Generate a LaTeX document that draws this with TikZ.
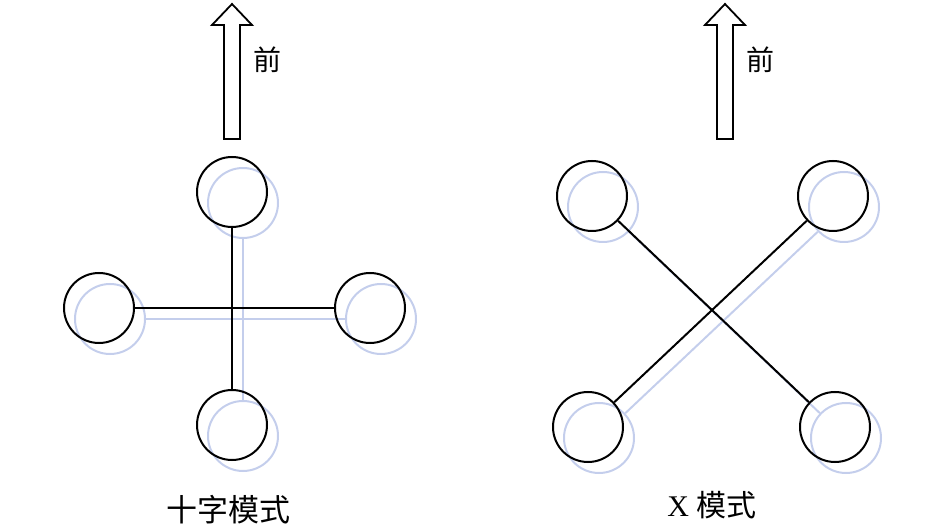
\documentclass[tikz,border=0pt]{standalone}
\usepackage{fontspec}
\setmainfont{Liberation Serif}
\newfontfamily\cjk{Noto Sans CJK SC}
\definecolor{shadeblue}{RGB}{196,206,236}
\tikzset{
  rotor/.style={draw,circle,minimum size=70,inner sep=0,line width=2},
  rotorshade/.style={rotor,draw=shadeblue},
  arm/.style={line width=2},
  armshade/.style={line width=2,draw=shadeblue},
  fwd/.style={line width=1.8},
  caption/.style={font=\fontsize{30}{32}\selectfont}
}
\begin{document}
\begin{tikzpicture}[x=1pt,y=-1pt,line join=miter,line cap=butt]
\useasboundingbox (0,0) rectangle (946,529);
\def\dd{11}
% forward arrows
\foreach \ax/\nm in {232/pf,725/xf}{
  \draw[fwd] (\ax-8,139)--(\ax-8,25)--(\ax-20,25)--(\ax,4)--(\ax+20,25)--(\ax+8,25)--(\ax+8,139)--cycle;
  \node[caption,font=\fontsize{28}{30}\selectfont\cjk] (\nm) at (\ax+35,60) {前};
}
% plus layout
\foreach \n/\x/\y in {t/232/192,l/99/308,r/370/308,b/232/425}{
  \node[rotorshade] (ps\n) at (\x+\dd,\y+\dd) {};
}
\draw[armshade] (pst)--(psb) (psl)--(psr);
\foreach \n/\x/\y in {t/232/192,l/99/308,r/370/308,b/232/425}{
  \node[rotor] (p\n) at (\x,\y) {};
}
\draw[arm] (pt)--(pb) (pl)--(pr);
\node[caption,font=\fontsize{31}{32}\selectfont\cjk] (plabel) at (228,510) {十字模式};
% x layout
\foreach \n/\x/\y in {tl/592/196,tr/833/196,bl/588/427,br/835/427}{
  \node[rotorshade] (xs\n) at (\x+\dd,\y+\dd) {};
}
\draw[armshade] (xstl)--(xsbr) (xstr)--(xsbl);
\foreach \n/\x/\y in {tl/592/196,tr/833/196,bl/588/427,br/835/427}{
  \node[rotor] (x\n) at (\x,\y) {};
}
\draw[arm] (xtl)--(xbr) (xtr)--(xbl);
\node[caption] (xlabel) at (712,505) {X {\cjk 模式}};
\end{tikzpicture}
\end{document}
